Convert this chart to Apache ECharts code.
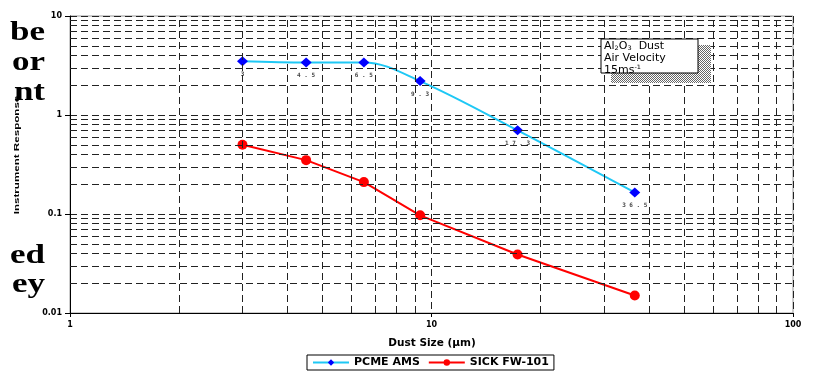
<!DOCTYPE html>
<html>
<head>
<meta charset="utf-8">
<script src="https://cdn.jsdelivr.net/npm/echarts@6/dist/echarts.min.js"></script>
<style>html,body{margin:0;padding:0;background:#fff;}#c{width:815px;height:373px;}</style>
</head>
<body>
<div id="c"></div>
<script>
// Data
const dustSize = [3, 4.5, 6.5, 9.3, 17.3, 36.5];
const pointLabels = ['3', '4.5', '6.5', '9.3', '17.3', '36.5'];
const pcmeAms = [3.5, 3.4, 3.4, 2.2, 0.7, 0.165];
const sickFw101 = [0.5, 0.35, 0.21, 0.097, 0.039, 0.015];
const xMinorGrid = [2, 3, 4, 5, 6, 7, 8, 9, 20, 30, 40, 50, 60, 70, 80, 90];
const yMinorGrid = [0.02, 0.03, 0.04, 0.05, 0.06, 0.07, 0.08, 0.09,
                    0.2, 0.3, 0.4, 0.5, 0.6, 0.7, 0.8, 0.9,
                    2, 3, 4, 5, 6, 7, 8, 9];
const xTickLabels = {1: '1', 10: '10', 100: '100'};
const yTickLabels = {0.01: '0.01', 0.1: '0.1', 1: '1', 10: '10'};
const sideText = ['be', 'or', 'nt', 'ed', 'ey'];

const chart = echarts.init(document.getElementById('c'));

// checker pattern for shadow
const pc = document.createElement('canvas');
pc.width = 2; pc.height = 2;
const pctx = pc.getContext('2d');
pctx.fillStyle = '#fff'; pctx.fillRect(0, 0, 2, 2);
pctx.fillStyle = '#666';
pctx.fillRect(0, 0, 1, 1); pctx.fillRect(1, 1, 1, 1);

const dash = [7, 4];
const gridLineStyle = {color: '#222', width: 1, type: dash};
const sansW = 'DejaVu Sans, Verdana, sans-serif';

const sideBaseline = [44, 74, 104, 267, 296];

const option = {
  animation: false,
  grid: {left: 70, right: 22, top: 16, bottom: 60, show: true, borderColor: '#999', borderWidth: 1},
  legend: {
    data: ['PCME AMS', 'SICK FW-101'],
    bottom: 3, left: 307,
    borderColor: '#000', borderWidth: 1, borderRadius: 0,
    padding: [2, 5], itemGap: 8, itemWidth: 36, itemHeight: 8,
    textStyle: {fontFamily: sansW, fontWeight: 'bold', fontSize: 11, color: '#000'}
  },
  xAxis: {
    type: 'log', logBase: 10, min: 1, max: 100,
    axisLine: {lineStyle: {color: '#000', width: 1}},
    axisTick: {show: true, length: 4, lineStyle: {color: '#000'}},
    axisLabel: {margin: 8, fontFamily: sansW, fontWeight: 'bold', fontSize: 8, color: '#000',
      formatter: v => xTickLabels[Math.round(v)] || ''},
    splitLine: {show: true, lineStyle: gridLineStyle}
  },
  yAxis: {
    type: 'log', logBase: 10, min: 0.01, max: 10,
    axisLine: {show: true, lineStyle: {color: '#000', width: 1}},
    axisTick: {show: true, length: 5, lineStyle: {color: '#000'}},
    axisLabel: {margin: 8, fontFamily: sansW, fontWeight: 'bold', fontSize: 8, color: '#000',
      formatter: v => { for (const k in yTickLabels) { if (Math.abs(Math.log10(v) - Math.log10(+k)) < 1e-6) return yTickLabels[k]; } return ''; }},
    splitLine: {show: true, lineStyle: gridLineStyle}
  },
  series: [
    {
      name: 'grid', type: 'line', data: [], z: 1, silent: true,
      markLine: {
        silent: true, symbol: 'none', label: {show: false},
        lineStyle: gridLineStyle,
        data: xMinorGrid.map(v => ({xAxis: v})).concat(yMinorGrid.map(v => ({yAxis: v})))
      }
    },
    {
      name: 'PCME AMS', type: 'line', z: 4,
      data: dustSize.map((x, i) => [x, pcmeAms[i]]),
      smooth: 0.35,
      symbol: 'diamond', symbolSize: [11, 10],
      lineStyle: {color: '#1ec8f5', width: 2},
      itemStyle: {color: '#0000ff'},
      label: {show: true, position: 'bottom', distance: 5,
        formatter: p => pointLabels[p.dataIndex].split('').join(' '),
        fontFamily: 'DejaVu Sans Mono, monospace', fontSize: 6, fontWeight: 'bold', color: '#444'}
    },
    {
      name: 'SICK FW-101', type: 'line', z: 3,
      data: dustSize.map((x, i) => [x, sickFw101[i]]),
      symbol: 'circle', symbolSize: 10,
      lineStyle: {color: '#ff0000', width: 2},
      itemStyle: {color: '#ff0000'}
    }
  ],
  graphic: [
    {type: 'rect', z: 10, shape: {x: 611, y: 45, width: 100, height: 38}, style: {fill: {image: pc, repeat: 'repeat'}}},
    {type: 'rect', z: 11, shape: {x: 601, y: 39, width: 97, height: 34}, style: {fill: '#fff', stroke: '#000', lineWidth: 1}},
    {type: 'text', z: 12, x: 604, y: 40, scaleX: 1.1, style: {
      text: '{n|Al}{s|2}{n|O}{s|3}{n|  Dust}\n{n|Air Velocity}\n{n|15ms}{p|-1}',
      rich: {
        n: {fontFamily: sansW, fontSize: 10, color: '#000', lineHeight: 12},
        s: {fontFamily: sansW, fontSize: 6, color: '#000', lineHeight: 12, padding: [5, 0, 0, 0]},
        p: {fontFamily: sansW, fontSize: 6, color: '#000', lineHeight: 12, padding: [0, 0, 5, 0]}
      }
    }},
    {type: 'text', z: 12, x: 432, y: 343, style: {
      text: 'Dust Size (µm)', align: 'center', verticalAlign: 'middle',
      font: 'bold 10.5px ' + sansW, fill: '#000'
    }},
    {type: 'text', z: 12, x: 17, y: 155, rotation: Math.PI / 2, scaleX: 1.45, style: {
      text: 'Instrument Response', align: 'center', verticalAlign: 'middle',
      font: 'bold 8px "Liberation Sans Narrow", "Liberation Sans", Arial', fill: '#000'
    }}
  ].concat(sideText.map((t, i) => ({
    type: 'text', z: 12, x: 45, y: sideBaseline[i] - 11, scaleX: 1.25, style: {
      x: 0, y: 0, text: t, align: 'right', verticalAlign: 'middle',
      font: 'bold 28px "Liberation Serif", "Times New Roman", serif', fill: '#000'
    }
  })))
};
chart.setOption(option);
</script>
</body>
</html>
